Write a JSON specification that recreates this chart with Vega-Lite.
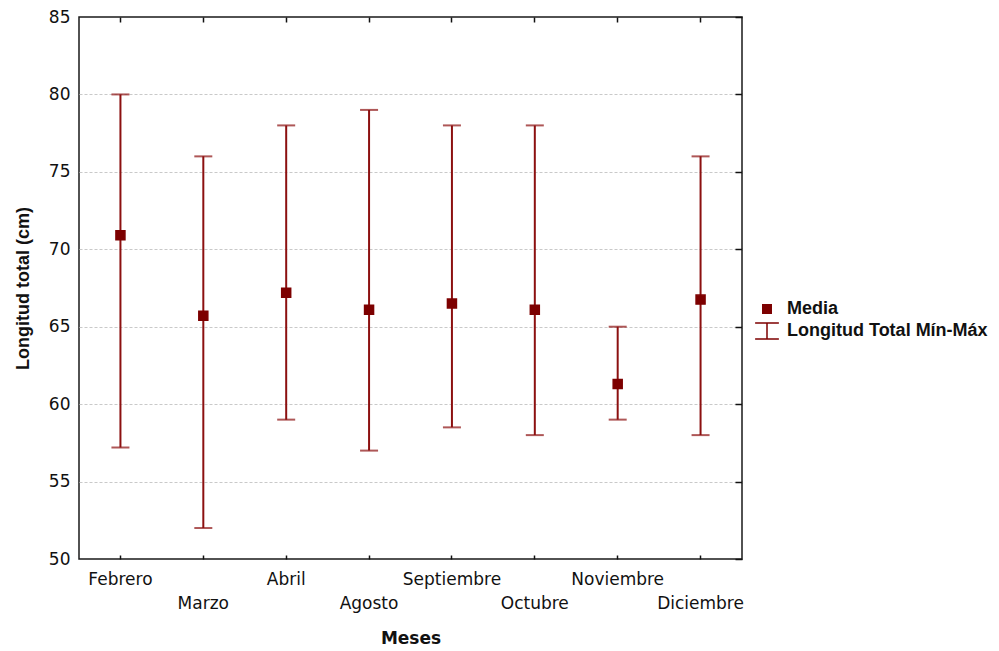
{
  "$schema": "https://vega.github.io/schema/vega-lite/v6.json",
  "autosize": "none",
  "width": 663,
  "height": 542,
  "padding": {"left": 79, "top": 17, "right": 257, "bottom": 92},
  "background": "white",
  "config": {
    "view": {"stroke": "#1a1a1a", "strokeWidth": 1.5},
    "axis": {"labelFont": "DejaVu Sans", "labelFontSize": 17, "labelColor": "#111", "titleColor": "#111"}
  },
  "data": {
    "values": [
      {"mes": "Febrero", "media": 70.9, "min": 57.2, "max": 80},
      {"mes": "Marzo", "media": 65.7, "min": 52, "max": 76},
      {"mes": "Abril", "media": 67.2, "min": 59, "max": 78},
      {"mes": "Agosto", "media": 66.1, "min": 57, "max": 79},
      {"mes": "Septiembre", "media": 66.5, "min": 58.5, "max": 78},
      {"mes": "Octubre", "media": 66.1, "min": 58, "max": 78},
      {"mes": "Noviembre", "media": 61.3, "min": 59, "max": 65},
      {"mes": "Diciembre", "media": 66.75, "min": 58, "max": 76}
    ]
  },
  "resolve": {"axis": {"x": "independent", "y": "independent"}},
  "layer": [
    {
      "mark": {"type": "rule", "color": "#8c1010", "strokeWidth": 2},
      "encoding": {
        "x": {
          "field": "mes", "type": "nominal", "sort": null,
          "scale": {"paddingInner": 0, "paddingOuter": 0},
          "axis": {
            "orient": "bottom", "title": "Meses", "labelAngle": 0,
            "domain": false, "ticks": true, "tickSize": -4, "tickColor": "#111", "tickWidth": 1.5,
            "labelPadding": 16, "labelBaseline": "top", "labelLineHeight": 24,
            "labelExpr": "indexof(['Marzo','Agosto','Octubre','Diciembre'], datum.label) >= 0 ? ['', datum.label] : datum.label",
            "titleFont": "DejaVu Sans", "titleFontWeight": "bold", "titleFontSize": 17, "titlePadding": 19
          }
        },
        "y": {
          "field": "min", "type": "quantitative",
          "scale": {"domain": [50, 85], "nice": false, "zero": false},
          "axis": {
            "orient": "left", "values": [50, 55, 60, 65, 70, 75, 80, 85],
            "title": "Longitud total (cm)", "domain": false, "ticks": false, "labelPadding": 9,
            "grid": true, "gridDash": [3, 2], "gridWidth": 1,
            "gridColor": {"condition": {"test": "datum.value == 50 || datum.value == 85", "value": "transparent"}, "value": "#c9c9c9"},
            "titleFont": "Liberation Sans", "titleFontWeight": "bold", "titleFontSize": 18, "titlePadding": 16
          }
        },
        "y2": {"field": "max"}
      }
    },
    {
      "mark": {"type": "tick", "color": "#8c1010", "thickness": 2, "size": 18},
      "encoding": {
        "x": {"field": "mes", "type": "nominal", "sort": null, "axis": null},
        "y": {"field": "max", "type": "quantitative", "axis": null}
      }
    },
    {
      "mark": {"type": "tick", "color": "#8c1010", "thickness": 2, "size": 18},
      "encoding": {
        "x": {"field": "mes", "type": "nominal", "sort": null, "axis": null},
        "y": {"field": "min", "type": "quantitative", "axis": null}
      }
    },
    {
      "mark": {"type": "point", "filled": true, "color": "#7d0000", "stroke": "#7d0000", "strokeWidth": 1.5, "size": 81, "opacity": 1},
      "encoding": {
        "x": {
          "field": "mes", "type": "nominal", "sort": null,
          "axis": {"orient": "top", "title": null, "labels": false, "domain": false, "ticks": true, "tickSize": -5, "tickColor": "#111", "tickWidth": 1.5}
        },
        "y": {
          "field": "media", "type": "quantitative",
          "axis": {"orient": "right", "title": null, "labels": false, "domain": false, "grid": false, "values": [50, 55, 60, 65, 70, 75, 80, 85], "ticks": true, "tickSize": -7, "tickColor": "#111", "tickWidth": 1.5}
        },
        "shape": {
          "datum": "Media",
          "scale": {
            "domain": ["Media", "Longitud Total Mín-Máx"],
            "range": ["square", "M-2.8,-1.9H2.8M0,-1.9V1.9M-2.8,1.9H2.8"]
          },
          "legend": {
            "title": null, "orient": "none", "legendX": 679, "legendY": 283,
            "labelFont": "Liberation Sans", "labelFontWeight": "bold", "labelFontSize": 18, "labelColor": "#111",
            "labelLimit": 0, "symbolSize": 72,
            "labelOffset": 11, "rowPadding": 1, "symbolStrokeWidth": 1.5
          }
        }
      }
    }
  ]
}
